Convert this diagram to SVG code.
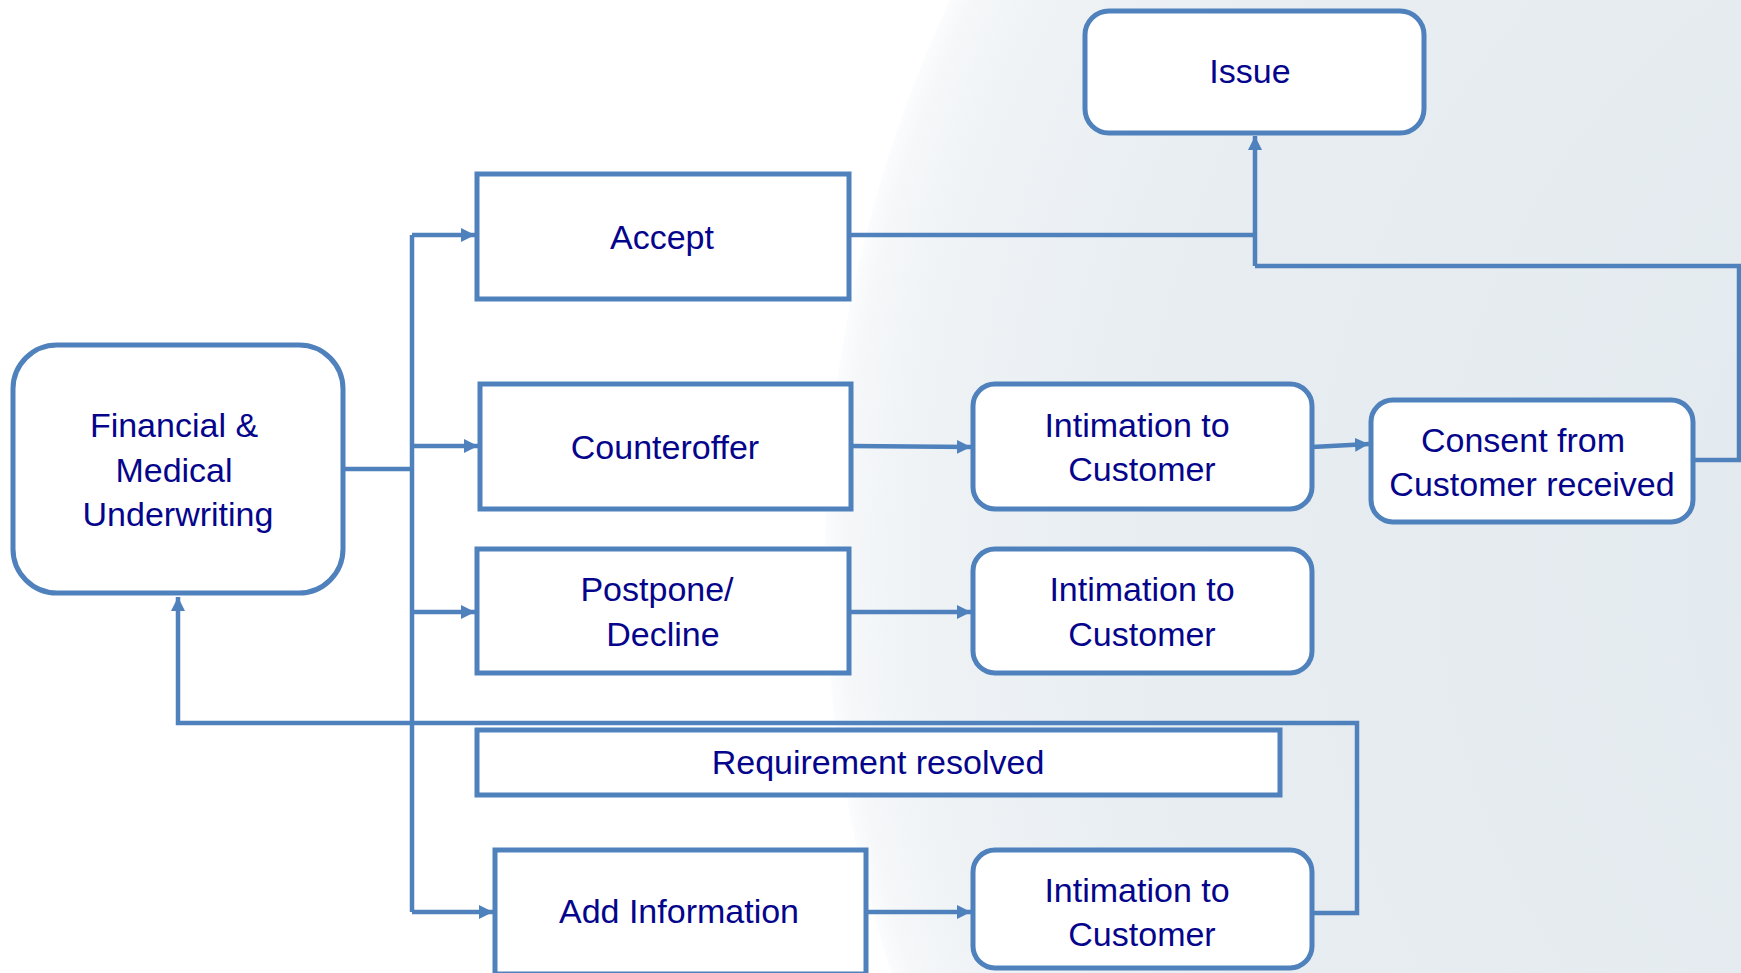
<svg xmlns="http://www.w3.org/2000/svg" width="1741" height="973" viewBox="0 0 1741 973">
<defs>
<radialGradient id="globe" cx="2142" cy="560" r="1317" gradientUnits="userSpaceOnUse">
<stop offset="0" stop-color="#e2e9ee"/>
<stop offset="0.75" stop-color="#e7edf1"/>
<stop offset="0.92" stop-color="#eef2f5"/>
<stop offset="0.985" stop-color="#f5f7f9"/>
<stop offset="1" stop-color="#fbfcfd"/>
</radialGradient>
<marker id="arr" markerUnits="userSpaceOnUse" markerWidth="16" markerHeight="16" refX="14" refY="8" orient="auto">
<path d="M0,1 L14,8 L0,15 z" fill="#4f81bd"/>
</marker>
</defs>
<style>
.box{fill:#ffffff;stroke:#4f81bd;stroke-width:5}
.c{fill:none;stroke:#4f81bd;stroke-width:4.5}
.t{font-family:"Liberation Sans",Arial,sans-serif;font-size:34px;fill:#05058c;text-anchor:middle}
</style>
<rect x="0" y="0" width="1741" height="973" fill="#ffffff"/>
<circle cx="2142" cy="560" r="1317" fill="url(#globe)"/>
<g id="connectors">
<path class="c" d="M343,469 H412"/>
<path class="c" d="M412,235 V912"/>
<path class="c" d="M412,235 H475" marker-end="url(#arr)"/>
<path class="c" d="M412,446 H478" marker-end="url(#arr)"/>
<path class="c" d="M412,612 H475" marker-end="url(#arr)"/>
<path class="c" d="M412,912 H493" marker-end="url(#arr)"/>
<path class="c" d="M849,235 H1255"/>
<path class="c" d="M1255,266 V136" marker-end="url(#arr)"/>
<path class="c" d="M1255,266 H1739 V460 H1695"/>
<path class="c" d="M851,446 L971,447" marker-end="url(#arr)"/>
<path class="c" d="M1312,447 L1369,444" marker-end="url(#arr)"/>
<path class="c" d="M849,612 H971" marker-end="url(#arr)"/>
<path class="c" d="M866,912 H971" marker-end="url(#arr)"/>
<path class="c" d="M1312,913 H1357 V723 H178 V597" marker-end="url(#arr)"/>
</g>
<g id="financial">
<rect class="box" x="13" y="345" width="330" height="248" rx="44"/>
<text class="t" x="174" y="437">Financial &amp;</text>
<text class="t" x="174" y="482">Medical</text>
<text class="t" x="178" y="526">Underwriting</text>
</g>
<g id="issue">
<rect class="box" x="1085" y="11" width="339" height="122" rx="24"/>
<text class="t" x="1250" y="83">Issue</text>
</g>
<g id="accept">
<rect class="box" x="477" y="174" width="372" height="125"/>
<text class="t" x="662" y="249">Accept</text>
</g>
<g id="counteroffer">
<rect class="box" x="480" y="384" width="371" height="125"/>
<text class="t" x="665" y="459">Counteroffer</text>
</g>
<g id="postpone">
<rect class="box" x="477" y="549" width="372" height="124"/>
<text class="t" x="657" y="601">Postpone/</text>
<text class="t" x="663" y="646">Decline</text>
</g>
<g id="intimation1">
<rect class="box" x="973" y="384" width="339" height="125" rx="22"/>
<text class="t" x="1137" y="437">Intimation to</text>
<text class="t" x="1142" y="481">Customer</text>
</g>
<g id="consent">
<rect class="box" x="1371" y="400" width="322" height="122" rx="22"/>
<text class="t" x="1523" y="452">Consent from</text>
<text class="t" x="1532" y="496">Customer received</text>
</g>
<g id="intimation2">
<rect class="box" x="973" y="549" width="339" height="124" rx="22"/>
<text class="t" x="1142" y="601">Intimation to</text>
<text class="t" x="1142" y="646">Customer</text>
</g>
<g id="requirement">
<rect class="box" x="477" y="730" width="803" height="65"/>
<text class="t" x="878" y="774">Requirement resolved</text>
</g>
<g id="addinfo">
<rect class="box" x="495" y="850" width="371" height="124"/>
<text class="t" x="679" y="923">Add Information</text>
</g>
<g id="intimation3">
<rect class="box" x="973" y="850" width="339" height="118" rx="22"/>
<text class="t" x="1137" y="902">Intimation to</text>
<text class="t" x="1142" y="946">Customer</text>
</g>
</svg>
